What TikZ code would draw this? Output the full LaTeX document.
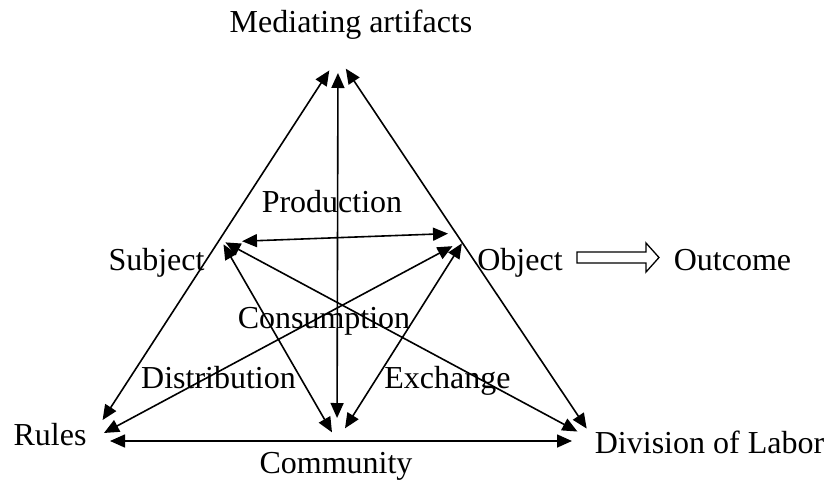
\documentclass[tikz,border=0pt]{standalone}
\usepackage{fontspec}
\setmainfont{Liberation Serif}
\usepackage{tikz}
\usetikzlibrary{arrows.meta}

\begin{document}
\begin{tikzpicture}[x=1pt,y=-1pt,
    lbl/.style={anchor=base, inner sep=0pt, font=\fontsize{32}{36}\selectfont},
    link/.style={{Triangle[length=15pt,width=13pt]}-{Triangle[length=15pt,width=13pt]}, line width=1.6pt}]
    \useasboundingbox (0,0) rectangle (829,479);
    \coordinate (med) at (338,57);
    \coordinate (rul) at (89,441);
    \coordinate (div) at (595,441);
    \coordinate (com) at (337,441);
    \coordinate (sub) at (221,240);
    \coordinate (obj) at (464,240);
    \node[lbl] (medart) at (351,32) {Mediating artifacts};
    \node[lbl] (prod) at (332,212) {Production};
    \node[lbl] (subj) at (156.5,270) {Subject};
    \node[lbl] (objt) at (520,270) {Object};
    \node[lbl] (outc) at (732.5,270) {Outcome};
    \node[lbl] (cons) at (324,328) {Consumption};
    \node[lbl] (distr) at (218.5,388) {Distribution};
    \node[lbl] (exch) at (447.5,388) {Exchange};
    \node[lbl] (rules) at (50,445) {Rules};
    \node[lbl] (divlab) at (709.5,453) {Division of Labor};
    \node[lbl] (comm) at (336,473) {Community};
    \draw[link, shorten <=16pt, shorten >=25pt] (med) -- (rul);
    \draw[link, shorten <=14pt, shorten >=15pt] (med) -- (div);
    \draw[link, shorten <=16pt, shorten >=23pt] (med) -- (com);
    \draw[link, shorten <=21pt, shorten >=23pt] (rul) -- (div);
    \draw[link, shorten <=21pt, shorten >=16pt] ([yshift=-2pt]sub) -- ([yshift=7pt]obj);
    \draw[link, shorten <=5pt, shorten >=10pt] (sub) -- (com);
    \draw[link, shorten <=5pt, shorten >=20pt] (sub) -- (div);
    \draw[link, shorten <=13pt, shorten >=17pt] (obj) -- (rul);
    \draw[link, shorten <=4pt, shorten >=15pt] (obj) -- (com);
    \draw[line width=1.3pt] (577,252) -- (646,252) -- (646,243) -- (659,257.5)
        -- (646,272) -- (646,263) -- (577,263) -- cycle;
\end{tikzpicture}
\end{document}
